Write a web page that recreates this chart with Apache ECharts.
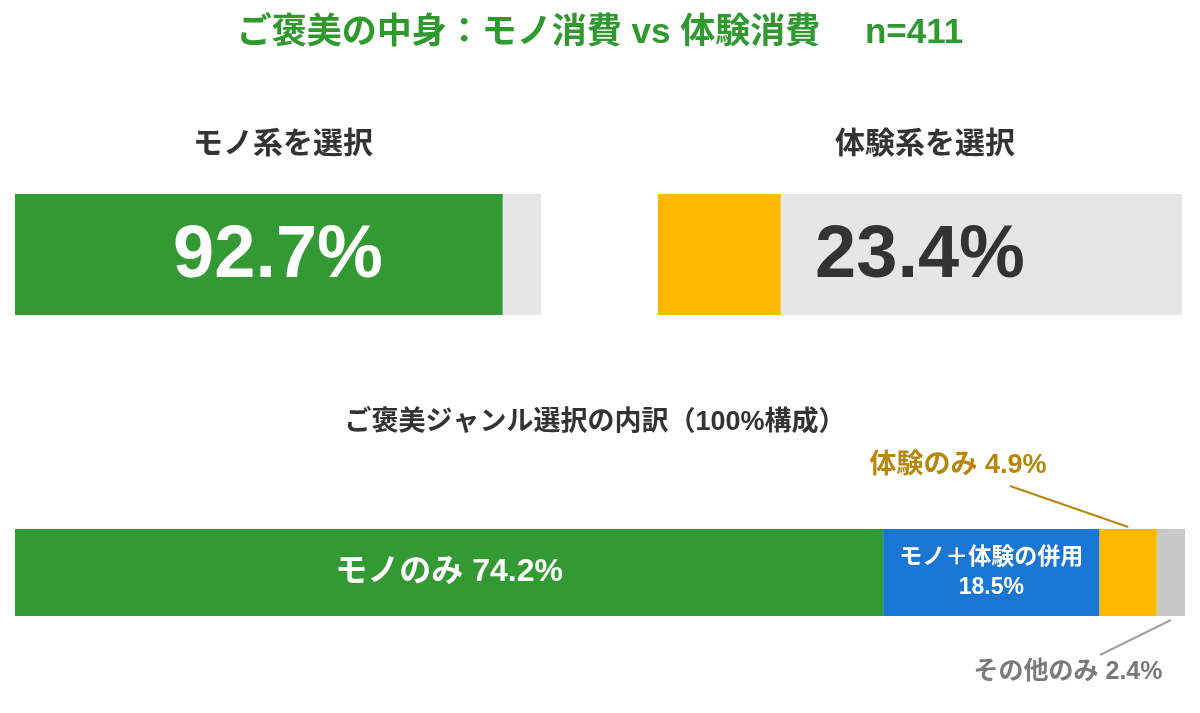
<!DOCTYPE html>
<html>
<head>
<meta charset="utf-8">
<script src="https://cdn.jsdelivr.net/npm/echarts@6/dist/echarts.min.js"></script>
<style>
  html, body { margin: 0; padding: 0; background: #fff; }
  #chart { width: 1200px; height: 713px; }
</style>
</head>
<body>
<div id="chart"></div>
<script>
  // 上段：選択率（%）
  const topNames = ['モノ系を選択', '体験系を選択']
  const topValues = [92.7, 23.4]
  const topColors = ['#339933', '#ffb800']
  const topLabelColors = ['#ffffff', '#333333']

  // 下段：100% 構成
  const breakdownNames = ['モノのみ', 'モノ＋体験の併用', '体験のみ', 'その他のみ']
  const breakdownValues = [74.2, 18.5, 4.9, 2.4]
  const breakdownColors = ['#339933', '#1976d2', '#ffb800', '#c8c8c8']

  const FONT = "'Liberation Sans', 'Noto Sans CJK JP', sans-serif"
  const BAR_H = 87

  const chart = echarts.init(document.getElementById('chart'))

  // 上段の2本：グレーのトラック＋塗り＋中央ラベル
  const topSeries = []
  topValues.forEach((v, i) => {
    topSeries.push({
      type: 'bar', xAxisIndex: i, yAxisIndex: i, barWidth: 121, barGap: '-100%',
      silent: true, itemStyle: { color: '#e6e6e6' }, data: [100],
    })
    topSeries.push({
      type: 'bar', xAxisIndex: i, yAxisIndex: i, barWidth: 121, barGap: '-100%',
      silent: true, itemStyle: { color: topColors[i] }, data: [v],
    })
    topSeries.push({
      type: 'bar', xAxisIndex: i, yAxisIndex: i, barWidth: 121, barGap: '-100%',
      silent: true, itemStyle: { color: 'transparent' }, data: [100],
      label: {
        show: true, position: 'inside', offset: [0, 2], formatter: v.toFixed(1) + '%',
        color: topLabelColors[i], fontSize: 74, fontWeight: 'bold', fontFamily: FONT,
      },
    })
  })

  // 下段の積み上げ（小さい区分は外側ラベル）
  const outside = {
    2: { x: 958, y: 466, color: '#b8860b', size: 27 },
    3: { x: 1068, y: 672, color: '#7a7a7a', size: 25 },
  }
  const breakdownSeries = breakdownValues.map((v, i) => {
    const s = {
      name: breakdownNames[i], type: 'bar', stack: 'total',
      xAxisIndex: 2, yAxisIndex: 2, barWidth: BAR_H, silent: true,
      itemStyle: { color: breakdownColors[i] },
      data: [v],
    }
    if (i === 0) {
      s.label = {
        show: true, position: 'inside', formatter: breakdownNames[i] + ' ' + v.toFixed(1) + '%',
        color: '#fff', fontSize: 32, fontWeight: 'bold', fontFamily: FONT,
      }
    } else if (i === 1) {
      s.label = {
        show: true, position: 'inside', formatter: breakdownNames[i] + '\n' + v.toFixed(1) + '%',
        color: '#fff', fontSize: 23, fontWeight: 'bold', fontFamily: FONT, lineHeight: 30,
      }
    } else {
      const o = outside[i]
      s.label = {
        show: true, position: 'top',
        formatter: breakdownNames[i] + ' ' + v.toFixed(1) + '%',
        color: o.color, fontSize: o.size, fontWeight: 'bold', fontFamily: FONT,
      }
      s.labelLayout = { x: o.x, y: o.y, align: 'center', verticalAlign: 'middle' }
    }
    return s
  })

  const hiddenValueAxis = (i) => ({
    type: 'value', gridIndex: i, min: 0, max: 100, show: false,
  })
  const hiddenCatAxis = (i) => ({
    type: 'category', gridIndex: i, data: [''], show: false,
  })

  const options = {
    animation: false,
    textStyle: { fontFamily: FONT },
    title: [
      {
        text: 'ご褒美の中身：モノ消費 vs 体験消費　 n=411', left: 'center', top: 11,
        textStyle: { color: '#2e9a2e', fontSize: 35, fontWeight: 'bold', fontFamily: FONT },
      },
      {
        text: topNames[0], left: 278, textAlign: 'center', top: 125,
        textStyle: { color: '#333', fontSize: 30, fontWeight: 'bold', fontFamily: FONT },
      },
      {
        text: topNames[1], left: 920, textAlign: 'center', top: 125,
        textStyle: { color: '#333', fontSize: 30, fontWeight: 'bold', fontFamily: FONT },
      },
      {
        text: 'ご褒美ジャンル選択の内訳（100%構成）', left: 590, textAlign: 'center', top: 404,
        textStyle: { color: '#333', fontSize: 27, fontWeight: 'bold', fontFamily: FONT },
      },
    ],
    grid: [
      { left: 15, width: 526, top: 194, height: 121 },
      { left: 658, width: 524, top: 194, height: 121 },
      { left: 15, width: 1170, top: 529, height: BAR_H },
    ],
    xAxis: [hiddenValueAxis(0), hiddenValueAxis(1), hiddenValueAxis(2)],
    yAxis: [hiddenCatAxis(0), hiddenCatAxis(1), hiddenCatAxis(2)],
    series: topSeries.concat(breakdownSeries),
  }

  chart.setOption(options)

  // 引き出し線：区分の中央（軸から換算）とラベルを結ぶ
  const cy = chart.convertToPixel({ yAxisIndex: 2 }, '')
  const mid = (i) => {
    const start = breakdownValues.slice(0, i).reduce((a, b) => a + b, 0)
    return chart.convertToPixel({ xAxisIndex: 2 }, start + breakdownValues[i] / 2)
  }
  chart.setOption({
    graphic: [
      {
        type: 'line', silent: true,
        shape: { x1: outside[2].x + 52, y1: outside[2].y + 20, x2: mid(2), y2: cy - BAR_H / 2 - 2 },
        style: { stroke: outside[2].color, lineWidth: 2 },
      },
      {
        type: 'line', silent: true,
        shape: { x1: mid(3), y1: cy + BAR_H / 2 + 4, x2: outside[3].x + 32, y2: outside[3].y - 17 },
        style: { stroke: '#a0a0a0', lineWidth: 2 },
      },
    ],
  })
</script>
</body>
</html>
